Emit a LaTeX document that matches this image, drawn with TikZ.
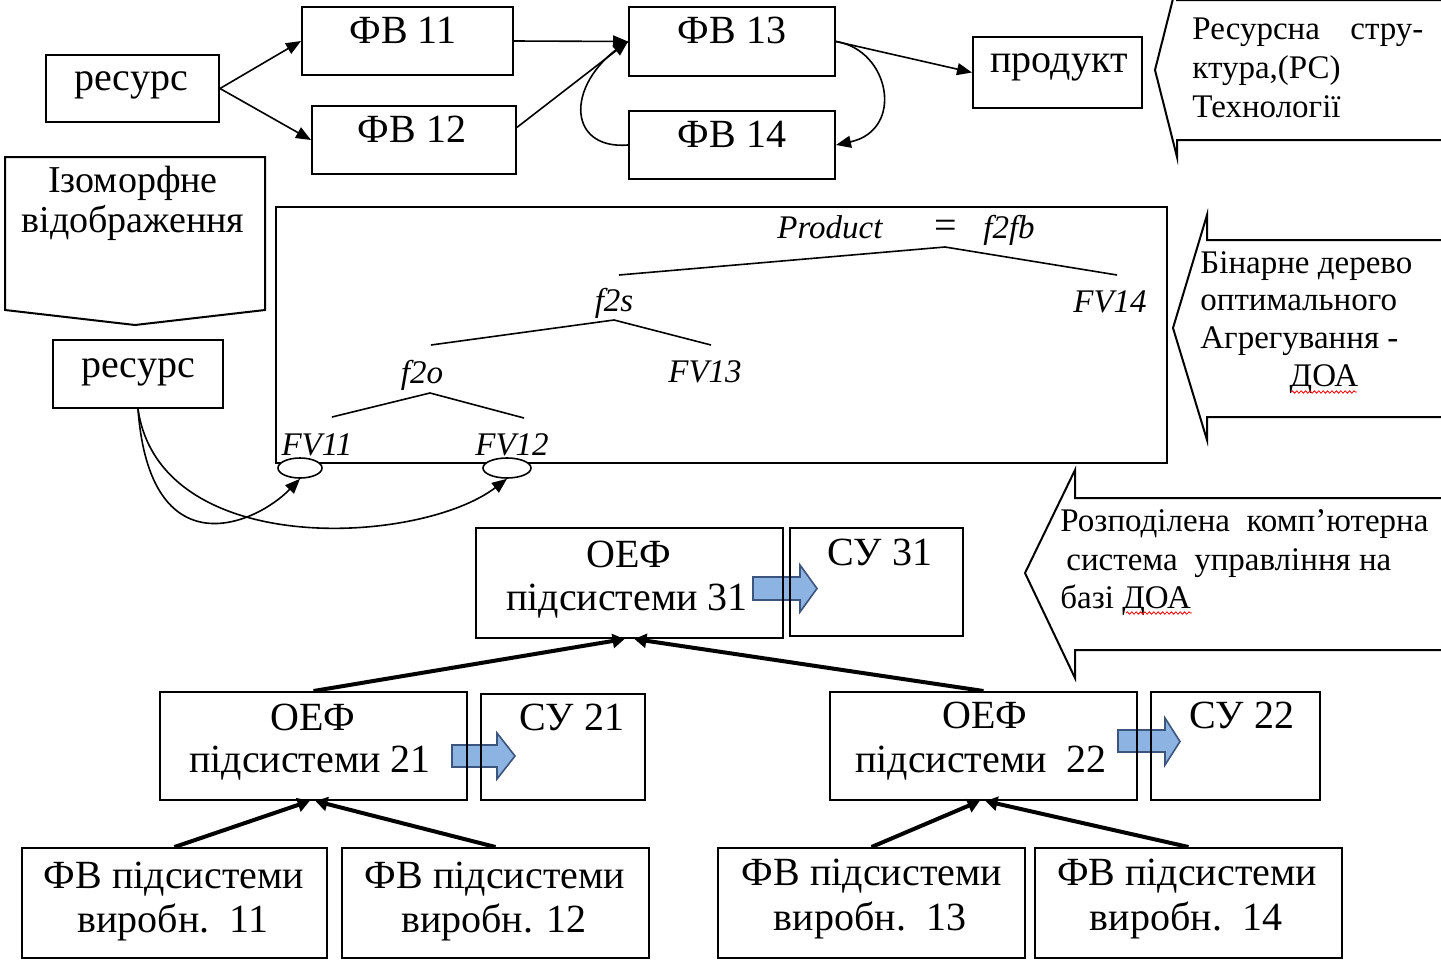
\documentclass[tikz,border=0pt]{standalone}
\usepackage{fontspec}
\setmainfont{Liberation Serif}
\usetikzlibrary{arrows.meta,shapes.geometric,fit,decorations.pathmorphing}
\definecolor{bfill}{RGB}{141,179,226}
\definecolor{bedge}{RGB}{60,85,125}
\newcommand{\fsA}{\fontsize{20}{22}\selectfont}
\newcommand{\fsB}{\fontsize{16.5}{19}\selectfont}
\newcommand{\fsI}{\fontsize{19}{21}\selectfont}
\begin{document}
\begin{tikzpicture}[x=0.5pt,y=-0.5pt,
 box/.style={draw, line width=1pt, inner sep=0pt},
 tx/.style={inner sep=0pt, anchor=base, font=\fsA},
 ix/.style={inner sep=0pt, anchor=base, font=\fsI},
 cx/.style={inner sep=0pt, anchor=base west, font=\fsB},
 tr/.style={inner sep=0pt, anchor=base, font=\fsB\itshape},
 arr/.style={-{Triangle[length=7.5pt,width=6pt]}, line width=0.8pt},
 tarr/.style={-{Triangle[length=6pt,width=7pt]}, line width=2pt},
 callout/.style={draw, line width=1pt, line join=miter},
 treeline/.style={line width=0.8pt},
 blk/.style={draw=bedge, fill=bfill, line width=0.8pt},
 wavy/.style={red, line width=0.4pt, decorate, decoration={snake, amplitude=0.6pt, segment length=2.2pt}}]
\useasboundingbox (0,0) rectangle (1441,959);

% block arrows (drawn first so box edges lie on top)
\draw[blk] (753,577) -- (800,577) -- (800,565) -- (817,588.5) -- (800,612) -- (800,600) -- (753,600) -- cycle;
\draw[blk] (452,745) -- (497,745) -- (497,733) -- (515,756) -- (497,779) -- (497,767) -- (452,767) -- cycle;
\draw[blk] (1118,730) -- (1165,730) -- (1165,718) -- (1180,741.5) -- (1165,765) -- (1165,752) -- (1118,752) -- cycle;

% boxes
\node[box, fit={(46,55) (219,122)}] (r1) {};
\node[box, fit={(302,7) (513,75)}] (fv11) {};
\node[box, fit={(312,106) (516,174)}] (fv12) {};
\node[box, fit={(629,7) (835,76)}] (fv13) {};
\node[box, fit={(629,111) (835,179)}] (fv14) {};
\node[box, fit={(973,37) (1142,108)}] (prod) {};
\node[box, fit={(53,340) (223,408)}] (r2) {};
\node[box, fit={(276,207) (1167,463)}] (tree) {};
\node[box, fit={(476,528) (783,638)}] (oef31) {};
\node[box, fit={(790,528) (963,636)}] (su31) {};
\node[box, fit={(160,692) (467,800)}] (oef21) {};
\node[box, fit={(481,694) (645,800)}] (su21) {};
\node[box, fit={(830,692) (1137,800)}] (oef22) {};
\node[box, fit={(1151,692) (1320,800)}] (su22) {};
\node[box, fit={(22,848) (327,958)}] (b11) {};
\node[box, fit={(342,848) (649,958)}] (b12) {};
\node[box, fit={(718,848) (1025,958)}] (b13) {};
\node[box, fit={(1035,848) (1342,958)}] (b14) {};

% ellipses on the tree box
\node[draw, ellipse, fill=white, line width=0.8pt, inner sep=0pt, minimum width=22pt, minimum height=10pt] (e11) at (300,468) {};
\node[draw, ellipse, fill=white, line width=0.8pt, inner sep=0pt, minimum width=24pt, minimum height=10pt] (e12) at (507,468) {};

% callout shapes
\draw[callout] (1445,140) -- (1177,140) -- (1177,157) -- (1155,70) -- (1177,-17) -- (1177,0) -- (1445,0);
\draw[callout] (1445,417) -- (1207,417) -- (1207,440) -- (1173,328) -- (1207,215) -- (1207,240) -- (1445,240);
\draw[callout] (1445,650) -- (1075,650) -- (1075,678) -- (1025,573) -- (1075,470) -- (1075,498) -- (1445,498);
\draw[callout] (5,157) -- (265,157) -- (265,310) -- (135,325) -- (5,310) -- cycle;

% texts in boxes
\node[tx] (r1t) at (131,90) {ресурс};
\node[tx] (fv11t) at (403,43) {ФВ 11};
\node[tx] (fv12t) at (412,142) {ФВ 12};
\node[tx] (fv13t) at (732,43) {ФВ 13};
\node[tx] (fv14t) at (732,147) {ФВ 14};
\node[tx] (prodt) at (1059,72) {продукт};
\node[tx] (r2t) at (138,377) {ресурс};
\node[tx] (oef31a) at (629,567) {ОЕФ};
\node[tx] (oef31b) at (627,610) {підсистеми 31};
\node[tx] (su31t) at (880,565) {СУ 31};
\node[tx] (oef21a) at (313,730) {ОЕФ};
\node[tx] (oef21b) at (310,772) {підсистеми 21};
\node[tx] (su21t) at (572,730) {СУ 21};
\node[tx] (oef22a) at (985,728) {ОЕФ};
\node[tx] (oef22b) at (981,772) {підсистеми\ \ 22};
\node[tx] (su22t) at (1242,728) {СУ 22};
\node[tx] (b11a) at (174,888) {ФВ підсистеми};
\node[tx] (b11b) at (173,932) {виробн.\ \ 11};
\node[tx] (b12a) at (495,888) {ФВ підсистеми};
\node[tx] (b12b) at (494,932) {виробн. 12};
\node[tx] (b13a) at (872,885) {ФВ підсистеми};
\node[tx] (b13b) at (870,930) {виробн.\ \ 13};
\node[tx] (b14a) at (1187,885) {ФВ підсистеми};
\node[tx] (b14b) at (1186,930) {виробн.\ \ 14};

% isomorphic mapping label
\node[ix] (izoa) at (133,192) {Ізоморфне};
\node[ix] (izob) at (133,232) {відображення};

% callout texts
\node[cx] (c1a) at (1192,39) {\makebox[115.5pt][s]{Ресурсна\hfill стру-}};
\node[cx] (c1b) at (1192,78) {ктура,(РС)};
\node[cx] (c1c) at (1192,117) {Технології};
\node[cx] (c2a) at (1200,273) {Бінарне дерево};
\node[cx] (c2b) at (1200,310) {оптимального};
\node[cx] (c2c) at (1200,348) {Агрегування -};
\node[inner sep=0pt, anchor=base, font=\fsB] (c2d) at (1324,386) {ДОА};
\node[cx] (c3a) at (1060,531) {Розподілена\ \ комп’ютерна};
\node[cx] (c3b) at (1066,570) {система\ \ управління на};
\node[cx] (c3c) at (1060,608) {базі ДОА};
\draw[wavy] (1291,392) -- (1357,392);
\draw[wavy] (1126,613) -- (1192,613);

% tree labels
\node[tr] (prl) at (830,238) {Product};
\node[inner sep=0pt, anchor=base, font=\fontsize{20}{22}\selectfont] (eq) at (946,238) {=};
\node[tr] (f2fb) at (1009,238) {f2fb};
\node[tr] (f2s) at (614,311) {f2s};
\node[tr] (fv14l) at (1110,312) {FV14};
\node[tr] (f2o) at (422,383) {f2o};
\node[tr] (fv13l) at (705,382) {FV13};
\node[tr] (fv11l) at (317,455) {FV11};
\node[tr] (fv12l) at (512,455) {FV12};

% tree lines
\draw[treeline] (619,275) -- (945,247) -- (1117,275);
\draw[treeline] (431,345) -- (614,320) -- (711,345);
\draw[treeline] (332,417) -- (430,393) -- (524,418);

% top connectors
\draw[arr] (r1.east) -- (fv11.west);
\draw[arr] (r1.east) -- (fv12.west);
\draw[arr] (fv11.east) -- (fv13.west);
\draw[arr] (fv12.7) -- (fv13.west);
\draw[line width=0.8pt] (fv14.west) .. controls (565,150) and (565,80) .. (fv13.west);
\draw[arr] (fv13.east) -- (prod.west);
\draw[arr] (fv13.east) .. controls (890,50) and (905,130) .. (fv14.east);

% resource to leaves
\draw[arr] (r2.south) .. controls (150,570) and (255,525) .. (e11.south);
\draw[arr] (r2.south) .. controls (160,560) and (420,545) .. (e12.south);

% hierarchy
\draw[tarr] (b11.north) -- (oef21.266);
\draw[tarr] (b12.north) -- (oef21.272);
\draw[tarr] (b13.north) -- (oef22.266);
\draw[tarr] (b14.north) -- (oef22.272);
\draw[tarr] (oef21.north) -- (oef31.265);
\draw[tarr] (oef22.north) -- (oef31.275);
\end{tikzpicture}
\end{document}
